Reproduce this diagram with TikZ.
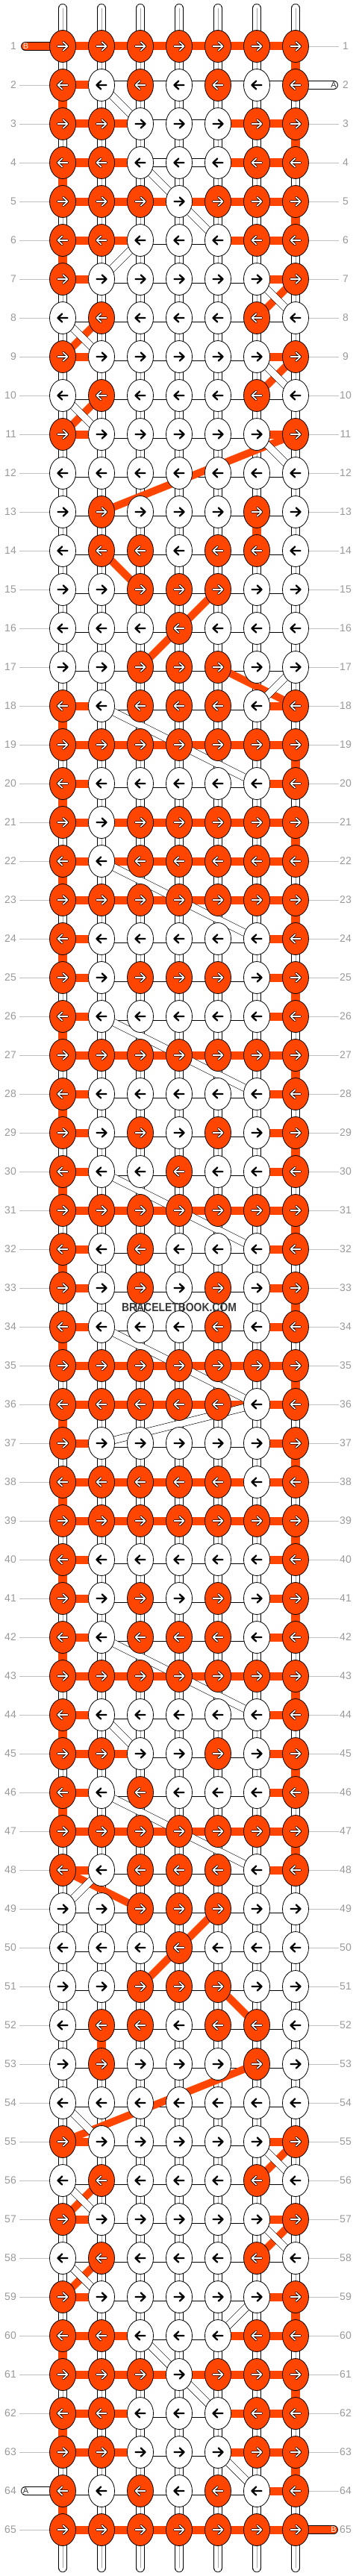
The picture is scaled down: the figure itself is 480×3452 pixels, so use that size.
\documentclass[tikz,border=0pt]{standalone}
\usepackage{fontspec}
\usepackage{graphicx}
\setmainfont{Liberation Sans}
\usetikzlibrary{shapes.geometric}
\definecolor{OR}{RGB}{255,69,0}
\definecolor{labgray}{RGB}{153,153,153}
\definecolor{lingray}{RGB}{192,192,192}
\definecolor{midgray}{RGB}{165,165,165}
\pgfdeclarelayer{bg}
\pgfdeclarelayer{mid}
\pgfsetlayers{bg,mid,main}
\begin{document}
\begin{tikzpicture}[x=1pt,y=-1pt,
 knot/.style={ellipse,draw=black,line width=0.8pt,minimum width=35pt,minimum height=43pt,inner sep=0pt},
 hconO/.style={draw=OR,line width=11pt},
 hconW/.style={draw=black,line width=0.7pt,double=white,double distance=9.6pt},
 vconO/.style={draw=OR,line width=12pt},
 vconW/.style={draw=black,line width=0.7pt,double=white,double distance=10.6pt},
 vmid/.style={draw=midgray,line width=0.6pt},
 tube/.style={vconW,line cap=round},
 stripO/.style={draw=black,line width=0.7pt,double=OR,double distance=10.4pt,line cap=round},
 stripW/.style={draw=black,line width=0.7pt,double=white,double distance=10.4pt,line cap=round},
 diagO/.style={draw=OR,line width=10pt},
 diagW/.style={draw=black,line width=0.6pt,double=white,double distance=9pt},
 gline/.style={draw=lingray,line width=0.6pt},
 lab/.style={text=labgray,font=\fontsize{14}{14}\selectfont,inner sep=0pt},
 arrOut/.style={draw=black,line width=3.4pt,line cap=round,line join=round},
 arrIn/.style={draw=white,line width=1.6pt,line cap=round,line join=round},
 arrBlk/.style={draw=black,line width=2.3pt,line cap=round,line join=round},
 endlab/.style={font=\fontsize{11}{11}\selectfont,inner sep=0pt}
]
\useasboundingbox (0,0) rectangle (480,3452);
\begin{pgfonlayer}{bg}
\fill[white] (0,0) rectangle (480,3452);
\end{pgfonlayer}

\foreach \rw/\Krow/\Crow in {
1/{O,O,O,O,O,O,O}/{O,O,O,O,O,O},
2/{O,W,O,W,O,W,O}/{O,W,W,W,W,W},
3/{O,O,W,W,W,O,O}/{O,O,W,W,O,O},
4/{O,O,W,W,W,O,O}/{O,O,W,W,O,O},
5/{O,O,O,W,O,O,O}/{O,O,O,O,O,O},
6/{O,O,W,W,W,O,O}/{O,O,W,W,O,O},
7/{O,W,W,W,W,W,O}/{O,W,W,W,W,O},
8/{W,O,W,W,W,O,W}/{W,W,W,W,W,W},
9/{O,W,W,W,W,W,O}/{O,W,W,W,W,O},
10/{W,O,W,W,W,O,W}/{W,W,W,W,W,W},
11/{O,W,W,W,W,W,O}/{O,W,W,W,W,O},
12/{W,W,W,W,W,W,W}/{W,W,W,W,W,W},
13/{W,O,W,W,W,O,W}/{W,W,W,W,W,W},
14/{W,O,O,W,O,O,W}/{W,W,W,W,W,W},
15/{W,W,O,O,O,W,W}/{W,W,W,W,W,W},
16/{W,W,W,O,W,W,W}/{W,W,W,W,W,W},
17/{W,W,O,O,O,W,W}/{W,W,W,W,W,W},
18/{O,W,O,O,O,W,O}/{O,W,W,W,W,O},
19/{O,O,O,O,O,O,O}/{O,O,O,O,O,O},
20/{O,W,W,W,W,W,O}/{O,W,W,W,W,O},
21/{O,W,O,O,O,O,O}/{O,O,O,O,O,O},
22/{O,W,O,O,O,O,O}/{O,O,O,O,O,O},
23/{O,O,O,O,O,O,O}/{O,O,O,O,O,O},
24/{O,W,W,W,W,W,O}/{O,W,W,W,W,O},
25/{O,W,O,O,O,W,O}/{O,W,W,W,W,O},
26/{O,W,W,W,W,W,O}/{O,W,W,W,W,O},
27/{O,O,O,O,O,O,O}/{O,O,O,O,O,O},
28/{O,W,W,W,W,W,O}/{O,W,W,W,W,O},
29/{O,W,O,W,O,W,O}/{O,W,W,W,W,O},
30/{O,W,W,O,W,W,O}/{O,W,W,W,W,O},
31/{O,O,O,O,O,O,O}/{O,O,O,O,O,O},
32/{O,W,O,W,W,W,O}/{O,W,W,W,W,O},
33/{O,W,O,W,O,W,O}/{O,W,W,W,W,O},
34/{O,W,W,W,O,W,O}/{O,W,W,W,W,O},
35/{O,O,O,O,O,O,O}/{O,O,O,O,O,O},
36/{O,O,O,O,O,W,O}/{O,O,O,O,O,O},
37/{O,W,W,W,W,W,O}/{O,W,W,W,W,O},
38/{O,O,O,O,O,W,O}/{O,O,O,O,O,O},
39/{O,O,O,O,O,O,O}/{O,O,O,O,O,O},
40/{O,W,W,W,W,W,O}/{O,W,W,W,W,O},
41/{O,W,O,W,O,W,O}/{O,W,W,W,W,O},
42/{O,W,O,O,O,W,O}/{O,W,W,W,W,O},
43/{O,O,O,O,O,O,O}/{O,O,O,O,O,O},
44/{O,W,W,W,W,W,O}/{O,W,W,W,W,O},
45/{O,O,W,W,O,W,O}/{O,O,W,W,W,O},
46/{O,W,O,W,W,W,O}/{O,W,W,W,W,O},
47/{O,O,O,O,O,O,O}/{O,O,O,O,O,O},
48/{O,W,O,O,O,W,O}/{O,W,W,W,W,O},
49/{W,W,O,O,O,W,W}/{W,W,W,W,W,W},
50/{W,W,W,O,W,W,W}/{W,W,W,W,W,W},
51/{W,W,O,O,O,W,W}/{W,W,W,W,W,W},
52/{W,O,O,W,O,O,W}/{W,W,W,W,W,W},
53/{W,O,W,W,W,O,W}/{W,W,W,W,W,W},
54/{W,W,W,W,W,W,W}/{W,W,W,W,W,W},
55/{O,W,W,W,W,W,O}/{O,W,W,W,W,O},
56/{W,O,W,W,W,O,W}/{W,W,W,W,W,W},
57/{O,W,W,W,W,W,O}/{O,W,W,W,W,O},
58/{W,O,W,W,W,O,W}/{W,W,W,W,W,W},
59/{O,W,W,W,W,W,O}/{O,W,W,W,W,O},
60/{O,O,W,W,W,O,O}/{O,O,W,W,O,O},
61/{O,O,O,W,O,O,O}/{O,O,O,O,O,O},
62/{O,O,W,W,W,O,O}/{O,O,W,W,O,O},
63/{O,O,W,W,W,O,O}/{O,O,W,W,O,O},
64/{O,W,O,W,O,W,O}/{W,W,W,W,W,O},
65/{O,O,O,O,O,O,O}/{O,O,O,O,O,O}%
}{%
 \pgfmathsetmacro\Y{62+52*(\rw-1)}
 \foreach \kk [count=\cl] in \Krow {%
  \pgfmathsetmacro\X{84+52*(\cl-1)}
  \expandafter\xdef\csname K-\rw-\cl\endcsname{\kk}
  \if\kk O\def\kfill{OR}\else\def\kfill{white}\fi
  \node[knot,fill=\kfill] (k-\rw-\cl) at (\X,\Y) {};
  \ifodd\rw\relax\def\dr{1}\else\def\dr{-1}\fi
  \pgfmathsetmacro\xa{\X-6.5*(\dr)}
  \pgfmathsetmacro\xb{\X+6.5*(\dr)}
  \pgfmathsetmacro\xc{\X+0.8*(\dr)}
  \def\arrpath{(\xa,\Y) -- (\xb,\Y) (\xc,\Y-5.5) -- (\xb,\Y) -- (\xc,\Y+5.5)}
  \if\kk O
   \draw[arrOut] \arrpath; \draw[arrIn] \arrpath;
  \else
   \draw[arrBlk] \arrpath;
  \fi
 }
 \begin{pgfonlayer}{bg}
 \foreach \cc [count=\cl] in \Crow {%
  \pgfmathtruncatemacro\cn{\cl+1}
  \if\cc O
   \draw[hconO] (k-\rw-\cl.center) -- (k-\rw-\cn.center);
  \else
   \draw[hconW] (k-\rw-\cl.center) -- (k-\rw-\cn.center);
  \fi
 }
 \end{pgfonlayer}
 \node[lab,anchor=east] (ll-\rw) at (22,\Y) {\rw};
 \node[lab] (lr-\rw) at (463,\Y) {\rw};
 \ifnum\rw=1 \else\ifnum\rw=64 \else
  \coordinate (gl-\rw) at (26,\Y);
  \draw[gline] (gl-\rw) -- (k-\rw-1);
 \fi\fi
 \ifnum\rw=2 \else\ifnum\rw=65 \else
  \coordinate (gr-\rw) at (454,\Y);
  \draw[gline] (k-\rw-7) -- (gr-\rw);
 \fi\fi
}

% vertical connectors between rows
\begin{pgfonlayer}{bg}
\foreach \rw in {1,...,64}{%
 \pgfmathtruncatemacro\rn{\rw+1}
 \ifodd\rw\relax\def\ec{7}\else\def\ec{1}\fi
 \foreach \cl in {1,...,7}{%
  \def\vs{W}
  \ifnum\cl=\ec\relax
   \edef\ka{\csname K-\rw-\cl\endcsname}
   \edef\kb{\csname K-\rn-\cl\endcsname}
   \if\ka O\if\kb O\def\vs{O}\fi\fi
  \fi
  \ifnum\rw=13 \ifnum\cl=6 \def\vs{O}\fi\fi
  \ifnum\rw=52 \ifnum\cl=2 \def\vs{O}\fi\fi
  \if\vs O
   \draw[vconO] (k-\rw-\cl.center) -- (k-\rn-\cl.center);
  \else
   \draw[vconW] (k-\rw-\cl.center) -- (k-\rn-\cl.center);
   \draw[vmid] (k-\rw-\cl.center) -- (k-\rn-\cl.center);
  \fi
 }
}
% top and bottom thread ends
\foreach \cl in {1,...,7}{%
 \pgfmathsetmacro\X{84+52*(\cl-1)}
 \coordinate (top-\cl) at (\X,11);
 \coordinate (bot-\cl) at (\X,3441);
 \draw[tube] (top-\cl) -- (k-1-\cl.center);
 \draw[vmid] (top-\cl) -- (k-1-\cl.center);
 \draw[tube] (k-65-\cl.center) -- (bot-\cl);
 \draw[vmid] (k-65-\cl.center) -- (bot-\cl);
}
% working string ends
\coordinate (sB1) at (34,62);
\draw[stripO] (sB1) -- (k-1-1.center);
\coordinate (sA2) at (447,114);
\draw[stripW] (k-2-7.center) -- (sA2);
\coordinate (sA64) at (34,3338);
\draw[stripW] (sA64) -- (k-64-1.center);
\coordinate (sB65) at (447,3390);
\draw[stripO] (k-65-7.center) -- (sB65);
\end{pgfonlayer}

% diagonal threads
\begin{pgfonlayer}{mid}
\foreach \ra/\ca/\rb/\cb in {7/7/8/6, 8/2/9/1, 9/7/10/6, 10/2/11/1, 11/7/13/2,
  14/2/15/3, 15/5/16/4, 16/4/17/3, 17/5/18/7, 48/1/49/3, 49/5/50/4, 50/4/51/3,
  51/5/52/6, 53/6/55/1, 55/7/56/6, 56/2/57/1, 57/7/58/6, 58/2/59/1}{%
 \draw[diagO] (k-\ra-\ca.center) -- (k-\rb-\cb.center);
}
\foreach \ra/\ca/\rb/\cb in {2/2/3/3, 4/3/5/4, 5/4/6/5, 6/3/7/2, 7/6/8/7, 8/1/9/2,
  9/6/10/7, 10/1/11/2, 11/6/12/7, 17/7/18/6, 18/2/20/6, 22/2/24/6, 26/2/28/6,
  30/2/32/6, 34/2/36/6, 36/6/37/2, 42/2/44/6, 44/2/45/3, 46/2/48/6, 48/2/49/1,
  54/1/55/2, 55/6/56/7, 56/1/57/2, 57/6/58/7, 58/1/59/2, 59/6/60/5, 60/3/61/4,
  61/4/62/5, 63/5/64/6}{%
 \draw[diagW] (k-\ra-\ca.center) -- (k-\rb-\cb.center);
}
\end{pgfonlayer}

\node[endlab,text=white] (tB1) at (34.5,62) {B};
\node[endlab,text=black!80] (tA2) at (447,114) {A};
\node[endlab,text=black!80] (tA64) at (34.5,3338) {A};
\node[endlab,text=white] (tB65) at (447,3390) {B};

\node[text=black!78,font=\bfseries\fontsize{16}{16}\selectfont,inner sep=0pt] (wm) at (240,1752) {\scalebox{0.87}[1]{BRACELETBOOK.COM}};
\end{tikzpicture}
\end{document}
